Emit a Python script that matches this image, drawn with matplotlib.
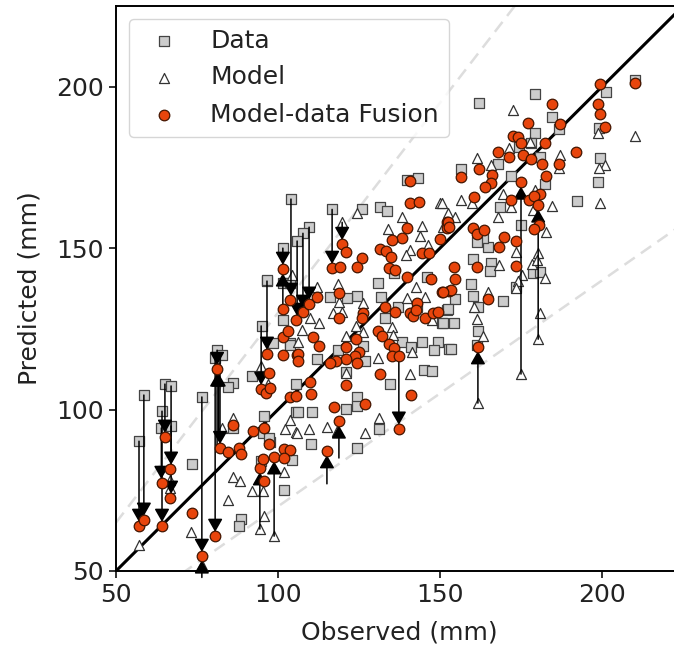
"""Observed vs predicted scatter with model-data fusion arrows
"""
import matplotlib
matplotlib.use('Agg')
import matplotlib.pyplot as plt
import numpy as np

# Data squares
data_obs = [58.6, 57.1, 65.1, 67, 64.2, 63.9, 67, 76.5, 73.4, 81.2, 82.7, 80.6, 86.1, 84.6, 86.1, 92, 95.1, 96.6,
            88.6, 88, 95.7, 95.3, 94.8, 97.5, 101.9, 105.6, 105.6, 98.5, 104.3, 103.7, 97.2, 101.5, 101.5, 103.7,
            104, 116.7, 109.6, 107.7, 105.9, 101.5, 96.6, 125.9, 131.5, 133.6, 139.8, 143.2, 130.9, 146, 135.8,
            131.8, 124.4, 116, 121.3, 103.7, 112, 118.5, 126.2, 126.9, 121, 133, 137, 138.3, 144.4, 149.4, 141,
            148.1, 152.8, 145.1, 147.5, 134.6, 124.4, 124.4, 121, 106.2, 110.5, 131.2, 110.2, 124.4, 150.6, 152.2,
            142.9, 210.2, 201.2, 179.3, 162, 184.6, 186.7, 179.3, 199.4, 198.8, 192.3, 167.9, 156.5, 180.9, 174.4,
            178, 171.9, 182.4, 168.5, 175, 164.8, 163.3, 161.4, 160.2, 165.7, 165.4, 178.7, 180.9, 173.5, 159.6,
            160.2, 169.4, 154.6, 161.7, 152.5, 154.3, 150.9, 161.7, 153.4, 161.4, 199.1]
data_pred = [104.5, 90.2, 107.9, 107.3, 99.5, 94.3, 94.9, 103.9, 83.1, 118.4, 116.9, 115.9, 108.2, 107, 94.3, 110.4,
             125.9, 139.8, 66.1, 63.9, 98, 92.7, 84.1, 89.9, 75.1, 99.2, 107.9, 120.6, 84.4, 120.6, 91.2, 127.7,
             139.2, 139.2, 165.2, 162, 156.5, 154.6, 152.2, 150, 140.1, 162, 162.7, 161.5, 171, 171.7, 139.2, 141,
             142.3, 134.8, 135.1, 134.8, 134.5, 120, 115.6, 118.4, 119.7, 115, 111.6, 128.3, 131.7, 120.9, 120.9,
             120.9, 119.3, 118.4, 118.7, 112.2, 111.9, 107.9, 103.9, 101.1, 100.2, 99.2, 99.2, 94, 89.3, 88, 126.8,
             130.8, 131.7, 202, 198.3, 197.7, 194.9, 190.5, 186.8, 185.6, 177.9, 170.4, 164.6, 176, 174.5, 178.2,
             181.3, 182.5, 172.3, 169.8, 162.7, 157.1, 150.3, 153.1, 151.9, 146.6, 145.4, 142.9, 142.3, 142.6,
             137.9, 138.9, 135.1, 133.6, 134.2, 131.7, 131.1, 126.8, 126.8, 124.3, 118.7, 120, 187.2]

# Model triangles
model_obs = [57.1, 73.2, 76.5, 84.6, 86.1, 88.3, 92, 95.4, 94.4, 95.7, 98.8, 101.9, 102.2, 103.7, 105.6, 66.7, 66.7,
             86.1, 82.7, 94.8, 96.9, 119.8, 124.4, 138.3, 150, 134, 144.4, 143.8, 140.8, 139.5, 146.3, 150.9, 112,
             118.5, 126.2, 118.8, 117, 119.8, 109.9, 112.7, 107.4, 104.3, 106.2, 124.1, 126.2, 121, 130.9, 135.2,
             135.5, 141.4, 140.8, 142.6, 139.8, 145.4, 147.5, 121, 105.9, 109.6, 115.1, 118.2, 126.9, 131.2, 172.5,
             210.2, 198.8, 200.9, 199.1, 199.4, 184.6, 187, 186.7, 161.4, 165.7, 171.3, 177.8, 156.5, 159.9, 169.4,
             167.9, 171.9, 179.3, 178.7, 150.6, 152.5, 154.6, 182.7, 180.3, 173.5, 168.2, 178.4, 180, 175.3, 174.1,
             173.5, 182.4, 180.9, 180.3, 175, 164.8, 160.5, 161.4, 163.3, 161.7]
model_pred = [58, 62.1, 51.9, 72, 79.1, 77.9, 74.8, 74.8, 63, 67, 60.8, 80.7, 94, 96.8, 93, 78.2, 75.7, 97.4, 94.3,
              113.5, 107.9, 158, 160.8, 159.6, 163.9, 155.9, 156.8, 153.7, 149.4, 147.8, 150.9, 156.5, 137.9, 138.9,
              133, 133.3, 129.9, 130.2, 128.3, 126.8, 124.6, 141.6, 120.9, 125.9, 124, 122.8, 116, 125.5, 123.1,
              117.8, 111, 137.9, 134.5, 134.8, 127.7, 111.3, 92.7, 94, 94.6, 93.3, 92.7, 97.4, 192.7, 184.7, 185.6,
              175.7, 174.8, 163.9, 163, 178.8, 174.8, 177.9, 175.7, 181, 182.8, 164.9, 163.9, 166.7, 159.6, 162.7,
              168, 161.8, 163.9, 160.8, 159.6, 155, 148.5, 148.8, 144.7, 145, 146.3, 141.6, 139.8, 137.6, 140.7,
              129.9, 121.8, 111, 136.4, 131.7, 128, 122.8, 102]

# Model-data fusion circles
fusion_obs = [57.2, 58.6, 64.2, 64.2, 65.2, 66.7, 66.7, 73.4, 76.5, 80.6, 81.2, 82.1, 84.6, 86.1, 88, 88.6, 92.3,
              95.7, 94.4, 95.7, 95.3, 97.2, 98.8, 101.8, 103.7, 101.9, 94.8, 96.2, 97.5, 97.2, 96.6, 101.5, 101.5,
              103, 101.5, 103.7, 105.5, 103.7, 105.6, 105.9, 140.8, 140.7, 143.6, 139.8, 138.3, 135.3, 131.4, 133.4,
              134.9, 134.3, 136.1, 139.8, 147.2, 144.5, 146.6, 150, 152.2, 152.2, 119.8, 121.1, 126, 124.3, 116.7,
              119.1, 101.5, 107.7, 109.6, 112, 110.8, 112.8, 106.2, 106.2, 118.8, 118.8, 126.2, 126, 121, 124.1, 125,
              123.8, 121, 117.9, 116, 124.4, 109.9, 121, 110.2, 117.3, 126.9, 118.8, 115.1, 133, 136.1, 130.9, 132.1,
              134.3, 135.9, 135.2, 137.3, 131.5, 141, 137.3, 142.9, 140.8, 141.7, 142.6, 145.4, 147.9, 149.4, 150.6,
              152.8, 199.3, 210.2, 184.6, 198.8, 199.4, 200.9, 177.2, 187.1, 172.5, 174, 175, 182.4, 167.9, 171.3,
              175.6, 178.1, 181.5, 186.7, 192, 162, 156.5, 166, 165.7, 163.9, 175, 182.7, 160.5, 171.9, 180.9, 177.5,
              179, 180.3, 152.5, 152.8, 180.6, 179, 160.2, 161.4, 163.6, 169.8, 173.5, 168.2, 173.5, 161.4, 154.3,
              154.6, 153.4, 150.9, 164.8, 161.7]
fusion_pred = [63.9, 65.8, 63.9, 77.2, 91.5, 81.6, 72.6, 68, 54.6, 60.8, 112.5, 88, 86.8, 95.2, 88, 86.2, 93.3, 94.3,
               81.9, 77.9, 84.7, 89.3, 85.3, 87.8, 87.5, 85, 106.3, 105.1, 106.7, 111.3, 117.2, 116.9, 122.4, 124.3,
               131.1, 133.9, 127.7, 103.9, 104.2, 116.9, 170.7, 163.9, 164.2, 156.2, 153.1, 152.5, 149.7, 149, 147.2,
               143.8, 143.2, 141.1, 140.4, 148.4, 148.4, 152.8, 158, 156.2, 151.2, 148.8, 146.9, 144.1, 143.8, 144.1,
               143.5, 130.2, 132.7, 134.8, 122.4, 119.7, 117.2, 115, 136.1, 128.3, 129.9, 128.3, 119.3, 121.8, 117.8,
               116.6, 115.6, 115, 114.4, 114.4, 108.5, 107.6, 104.8, 100.8, 101.7, 96.4, 87.2, 131.7, 130.2, 124.3,
               122.8, 120.3, 119, 116.6, 116.6, 111, 104.5, 94, 133, 129.9, 128.9, 130.8, 128.3, 129.9, 130.2, 136.4,
               136.7, 200.8, 201.1, 194.8, 194.8, 191.5, 187.5, 188.7, 188.4, 184.7, 184.4, 182.5, 182.5, 179.7,
               178.2, 178.8, 177.6, 176, 176, 179.7, 174.5, 172, 172.6, 170.1, 168.9, 170.4, 172.3, 165.7, 164.9,
               166.7, 164.9, 166, 163.3, 158, 156.5, 157.1, 155.9, 156.2, 154.3, 155.6, 153.4, 152.2, 150.3, 144.4,
               144.1, 144.1, 140.4, 137, 136.4, 134.2, 119.4]

# Arrows run from the data or model value to the fused value
arrow_obs = [57.1, 58.6, 64.2, 65.1, 67, 64, 67, 76.5, 80.6, 81.2, 82.1, 94.8, 96.6, 104, 101.5, 105.9, 107.7, 109.6,
             116.7, 119.8, 137.3, 76.5, 81.2, 81.7, 94.4, 98.8, 101.5, 115.1, 118.8, 175, 180.3, 161.7]
arrow_start = [90.2, 104.5, 99.5, 107.9, 107.3, 94.3, 94.9, 103.9, 115.9, 118.4, 115.9, 125.9, 139.8, 165.2, 150,
               152.2, 154.6, 156.5, 162, 158, 116.6, 48, 88, 92, 63, 60.8, 131.1, 77, 85, 111, 121.8, 102]
arrow_end = [63.9, 65.8, 63.9, 91.5, 81.6, 77.2, 72.6, 54.6, 60.8, 112.5, 88, 106.3, 117.2, 133.9, 143.5, 127.7,
             130.2, 132.7, 143.8, 151.2, 94, 54.6, 112.5, 112.5, 81.9, 85.3, 143.5, 87.2, 96.4, 170.4, 163.3, 119.4]

ticks = [50, 100, 150, 200]
one_to_one = np.array([50, 225])

fig = plt.figure(figsize=(6.74, 6.51), dpi=100)
# right spine sits past the edge of the picture, as in the original crop
ax = fig.add_axes([116 / 674, 80 / 651, 567 / 674, 565 / 651])

ax.plot(one_to_one, one_to_one, color='k', lw=2.2, zorder=1.5, label='_nolegend_')
ax.plot(one_to_one, 1.3 * one_to_one, color='#dddddd', lw=1.8, ls=(0, (5, 3)), zorder=1)
ax.plot(one_to_one, 0.7 * one_to_one, color='#dddddd', lw=1.8, ls=(0, (5, 3)), zorder=1)

ax.scatter(data_obs, data_pred, marker='s', s=52, facecolor='#cccccc', edgecolor='#444444', lw=0.9, zorder=2,
           label='Data')
ax.scatter(model_obs, model_pred, marker='^', s=52, facecolor='white', edgecolor='#333333', lw=0.9, zorder=3,
           label='Model')

for x, y0, y1 in zip(arrow_obs, arrow_start, arrow_end):
    ax.annotate('', xy=(x, y1), xytext=(x, y0), zorder=4,
                arrowprops=dict(arrowstyle='-|>,head_width=0.25,head_length=0.44', color='k', lw=1.1,
                                shrinkA=0, shrinkB=3, mutation_scale=18))

ax.scatter(fusion_obs, fusion_pred, marker='o', s=58, facecolor='#e8450c', edgecolor='#441500', lw=0.9, zorder=5,
           label='Model-data Fusion')

ax.set_xlim(50, 225)
ax.set_ylim(50, 225)
ax.set_xticks(ticks)
ax.set_yticks(ticks)
ax.tick_params(labelsize=18, length=5, width=1.3, color='#222222', labelcolor='#222222')
ax.set_xlabel('Observed (mm)', fontsize=18, labelpad=10, color='#222222')
ax.set_ylabel('Predicted (mm)', fontsize=18, labelpad=11, color='#222222')
for spine in ax.spines.values():
    spine.set_linewidth(1.4)

ax.legend(loc='upper left', fontsize=18, handletextpad=0.88, borderaxespad=0.5, labelspacing=0.52,
          labelcolor='#222222')

fig.savefig('out.png', dpi=100)
